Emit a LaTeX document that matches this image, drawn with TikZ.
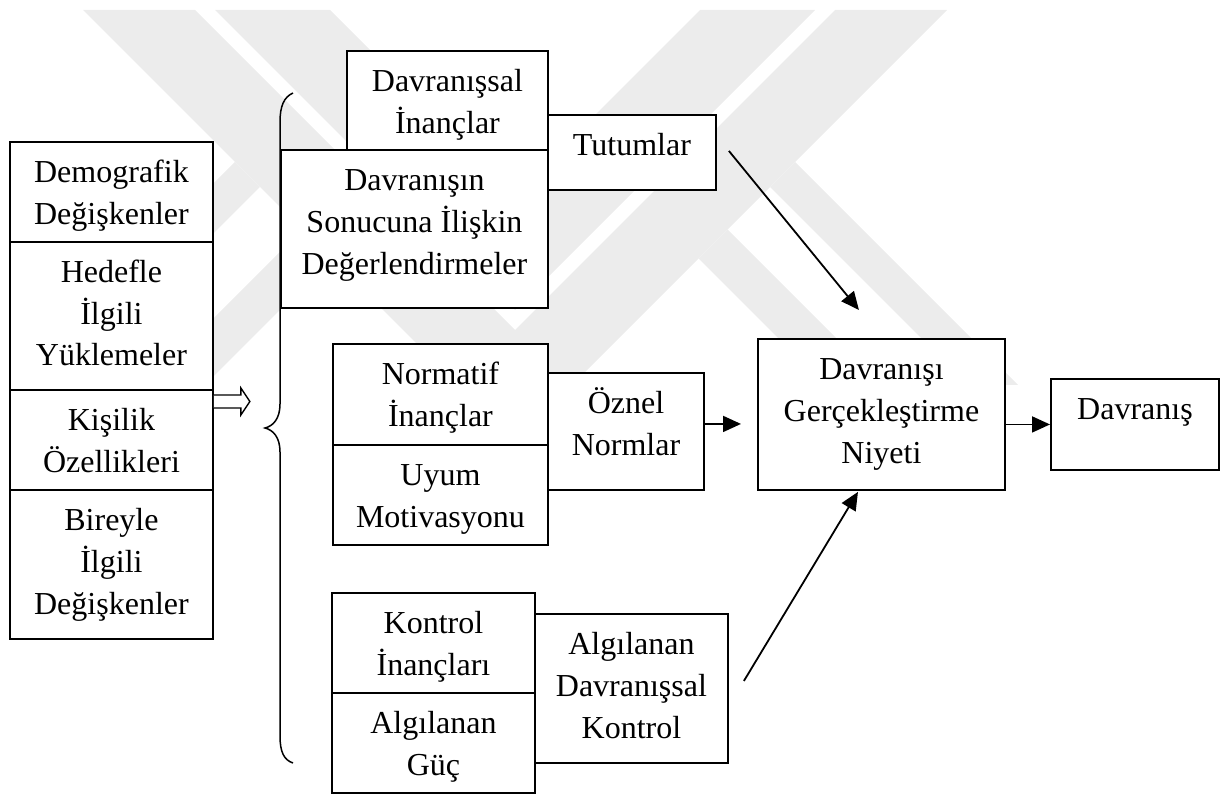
\documentclass[tikz,border=0pt]{standalone}
\usepackage{fontspec}
\setmainfont{Liberation Serif}
\usetikzlibrary{arrows.meta,calc}

\definecolor{wmgray}{RGB}{236,236,236}

% A framed box given by its corners, with its text set from the top
\newcommand{\flowbox}[6]{%
  \node[box, anchor=north west,
        minimum width={(#4-#2)*0.5pt}, minimum height={(#5-#3)*0.5pt}] (#1) at (#2,#3) {};
  \node[lbl] (#1-t) at ($(#1.north)+(0,11.5)$) {\rule{0pt}{15pt}#6};
}

\begin{document}
\begin{tikzpicture}[x=0.5pt,y=-0.5pt,
  box/.style={draw, line width=0.95pt, fill=white, inner sep=0pt},
  lbl/.style={anchor=north, inner sep=0pt, align=center,
              font=\fontsize{16pt}{20.85pt}\selectfont},
  conn/.style={line width=0.9pt, -{Triangle[length=9pt,width=8pt]}},
  brace/.style={line width=0.75pt},
  dblarrow/.style={draw, line width=0.7pt, fill=white},
  wm/.style={fill=wmgray, draw=none},
]
\useasboundingbox (0,0) rectangle (1230,795);

% faint background mark: two nested V bands with side branches
\fill[wm] (83,10) -- (195,10) -- (515,330) -- (835,10) -- (947,10) -- (515,442) -- cycle;
\fill[wm] (215,10) -- (330,10) -- (515,195) -- (700,10) -- (815,10) -- (515,310) -- cycle;
\fill[wm] (795,162) -- (1018,385) -- (968,385) -- (770,187) -- cycle;
\fill[wm] (727.5,229.5) -- (883,385) -- (825,385) -- (698.5,258.5) -- cycle;
\fill[wm] (235,162) -- (12,385) -- (62,385) -- (260,187) -- cycle;
\fill[wm] (302.5,229.5) -- (147,385) -- (205,385) -- (331.5,258.5) -- cycle;

% left column of factors
\flowbox{dem}{9}{140.7}{212}{240.7}{Demografik\\Değişkenler}
\flowbox{hed}{9}{240.7}{212}{388.7}{Hedefle\\İlgili\\Yüklemeler}
\flowbox{kis}{9}{388.7}{212}{489}{Kişilik\\Özellikleri}
\flowbox{bir}{9}{489}{212}{638}{Bireyle\\İlgili\\Değişkenler}

% hollow double arrow towards the brace
\coordinate (da) at ($(kis.north east)+(0,12.8)$);
\draw[dblarrow] ($(da)+(0,-6.5)$) -- ($(da)+(27,-6.5)$) -- ($(da)+(27,-13.5)$)
  -- ($(da)+(36,0)$) -- ($(da)+(27,13.5)$) -- ($(da)+(27,6.5)$) -- ($(da)+(0,6.5)$);

% attitude branch
\flowbox{dinan}{346}{50}{547}{149}{Davranışsal\\İnançlar}
\flowbox{dsonuc}{280}{149}{547}{307}{Davranışın\\Sonucuna İlişkin\\Değerlendirmeler}
\flowbox{tut}{547}{114}{715}{189}{Tutumlar}

% subjective norm branch
\flowbox{ninan}{332}{343}{547}{444}{Normatif\\İnançlar}
\flowbox{uyum}{332}{444}{547}{544}{Uyum\\Motivasyonu}
\flowbox{ozn}{547}{372}{703}{489}{Öznel\\Normlar}

% perceived control branch
\flowbox{kinan}{331}{592}{534}{692}{Kontrol\\İnançları}
\flowbox{guc}{331}{692}{534}{792}{Algılanan\\Güç}
\flowbox{adk}{534}{613}{727}{762}{Algılanan\\Davranışsal\\Kontrol}

% intention and behaviour
\flowbox{niy}{757}{338}{1004}{489}{Davranışı\\Gerçekleştirme\\Niyeti}
\flowbox{dav}{1050}{378}{1218}{469}{Davranış}

% curly brace grouping the three belief branches
\draw[brace] (293,93) .. controls (284,97) and (280,106) .. (280,122)
  -- (280,404) .. controls (280,419) and (273,426) .. (265,428)
  .. controls (273,430) and (280,437) .. (280,452)
  -- (280,736) .. controls (280,752) and (284,760) .. (293,763);

% connectors
\draw[conn] ($(tut.east)+(12,-1.5)$) -- ($(niy.north)+(-22.5,-28)$);
\draw[conn] ($(ozn.east)+(0,-7.5)$) -- ($(niy.west)+(-16,9.5)$);
\draw[conn] ($(adk.east)+(15,-7.5)$) -- ($(niy.south)+(-23.5,1)$);
\draw[conn] (niy.east |- dav.west) -- (dav.west);
\end{tikzpicture}
\end{document}
